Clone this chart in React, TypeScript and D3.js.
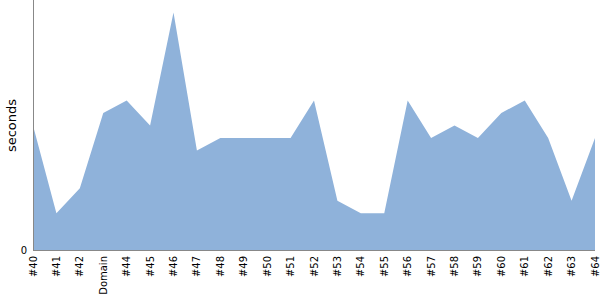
import React, { useEffect, useRef } from "react";
import * as d3 from "d3";

const categories = ["#40", "#41", "#42", "Domain", "#44", "#45", "#46", "#47", "#48", "#49", "#50", "#51", "#52", "#53", "#54", "#55", "#56", "#57", "#58", "#59", "#60", "#61", "#62", "#63", "#64"];
const seconds = [10, 3, 5, 11, 12, 10, 19, 8, 9, 9, 9, 9, 12, 4, 3, 3, 12, 9, 10, 9, 11, 12, 9, 4, 9];
const yTicks = [0];
const yDomain = [0, 20];

export default function App() {
  const ref = useRef<SVGSVGElement>(null);
  useEffect(() => {
    const svg = d3.select(ref.current);
    svg.selectAll("*").remove();
    const left = 33, right = 595, top = 0, bottom = 251;
    const x = d3.scalePoint<string>().domain(categories).range([left, right]);
    const y = d3.scaleLinear().domain(yDomain).range([bottom, top]);
    const font = "DejaVu Sans, sans-serif";

    const area = d3.area<number>()
      .x((_, i) => x(categories[i])!)
      .y0(y(0))
      .y1((d) => y(d));
    svg.append("path").attr("d", area(seconds)!).attr("fill", "#8fb2da");

    // axes lines
    svg.append("line").attr("x1", left + 0.5).attr("x2", left + 0.5).attr("y1", top).attr("y2", bottom)
      .attr("stroke", "#888").attr("stroke-width", 1);
    svg.append("line").attr("x1", left).attr("x2", right).attr("y1", bottom - 0.5).attr("y2", bottom - 0.5)
      .attr("stroke", "#888").attr("stroke-width", 1);

    // y ticks
    yTicks.forEach((t) => {
      svg.append("text").attr("x", left - 6).attr("y", y(t)).attr("dy", "0.32em")
        .attr("text-anchor", "end").attr("font-family", font).attr("font-size", 10)
        .attr("fill", "#000").text(String(t));
    });

    // x labels
    categories.forEach((c) => {
      const xp = x(c)!;
      svg.append("text")
        .attr("transform", `translate(${xp},${bottom + 5}) rotate(-90)`)
        .attr("text-anchor", "end").attr("dy", "0.35em")
        .attr("font-family", font).attr("font-size", 10).attr("fill", "#000")
        .text(c);
    });

    // y label
    svg.append("text")
      .attr("transform", `translate(11,${(top + bottom) / 2}) rotate(-90)`)
      .attr("text-anchor", "middle").attr("dy", "0.35em")
      .attr("font-family", font).attr("font-size", 13).attr("fill", "#000")
      .text("seconds");
  }, []);
  return (
    <svg ref={ref} width={600} height={300} style={{ position: "absolute", left: 0, top: 0, background: "#fff" }} />
  );
}
